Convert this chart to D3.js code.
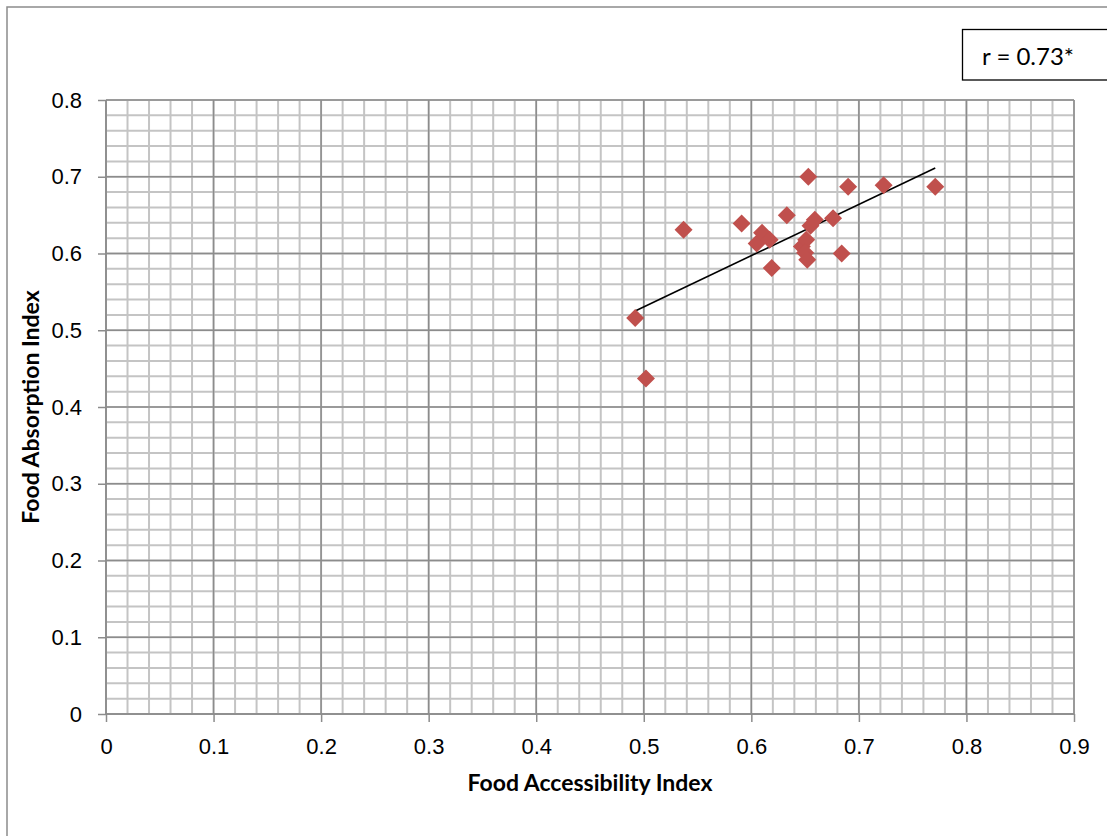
<!DOCTYPE html>
<html lang="en">
<head>
<meta charset="UTF-8">
<title>Food Accessibility vs Food Absorption</title>
<style>
  body { margin: 0; background: #fff; }
  svg { display: block; font-family: Lato, "Open Sans", sans-serif; }
  .minor line { stroke: #c4c4c4; stroke-width: 2; }
  .major line { stroke: #8c8c8c; stroke-width: 1.5; }
  .axis path, .axis line { stroke: #8c8c8c; stroke-width: 1.5; }
  .axis text { font-size: 22px; fill: #000; }
  .title { font-size: 23px; font-weight: bold; }
</style>
</head>
<body>
<svg id="chart" width="1107" height="836"></svg>
<script src="https://d3js.org/d3.v7.min.js"></script>
<script>
// data
const accessIndex = [0.492, 0.502, 0.537, 0.591, 0.605, 0.610, 0.617, 0.619, 0.633, 0.647, 0.651,
                     0.650, 0.652, 0.653, 0.655, 0.659, 0.676, 0.684, 0.690, 0.723, 0.771];
const absorbIndex = [0.516, 0.437, 0.631, 0.639, 0.613, 0.627, 0.618, 0.581, 0.650, 0.609, 0.618,
                     0.601, 0.592, 0.700, 0.636, 0.644, 0.646, 0.600, 0.687, 0.689, 0.687];
const xTicks = [0, 0.1, 0.2, 0.3, 0.4, 0.5, 0.6, 0.7, 0.8, 0.9];
const yTicks = [0, 0.1, 0.2, 0.3, 0.4, 0.5, 0.6, 0.7, 0.8];
const rLabel = "r = 0.73*";

const svg = d3.select('#chart');
const plotL = 106, plotR = 1074, plotT = 100, plotB = 714;

const x = d3.scaleLinear().domain([0, 0.9]).range([plotL, plotR]);
const y = d3.scaleLinear().domain([0, 0.8]).range([plotB, plotT]);

// outer chart border
svg.append('rect')
    .attr('x', 7).attr('y', 7).attr('width', 1200).attr('height', 900)
    .attr('fill', 'none').attr('stroke', '#8c8c8c').attr('stroke-width', 1.5);

// minor grid (0.02 steps)
const xMinor = d3.range(0, 46).map(i => i * 0.02);
const yMinor = d3.range(0, 41).map(i => i * 0.02);
const minor = svg.append('g').attr('class', 'minor');
minor.selectAll('.vx').data(xMinor).enter().append('line')
    .attr('x1', d => x(d)).attr('x2', d => x(d)).attr('y1', plotT).attr('y2', plotB);
minor.selectAll('.hy').data(yMinor).enter().append('line')
    .attr('y1', d => y(d)).attr('y2', d => y(d)).attr('x1', plotL).attr('x2', plotR);

// major grid
const major = svg.append('g').attr('class', 'major');
major.selectAll('.vx').data(xTicks).enter().append('line')
    .attr('x1', d => x(d)).attr('x2', d => x(d)).attr('y1', plotT).attr('y2', plotB);
major.selectAll('.hy').data(yTicks).enter().append('line')
    .attr('y1', d => y(d)).attr('y2', d => y(d)).attr('x1', plotL).attr('x2', plotR);

// axes
const fmt = d => d === 0 ? '0' : d3.format('.1f')(d);
svg.append('g').attr('class', 'axis')
    .attr('transform', `translate(0,${plotB})`)
    .call(d3.axisBottom(x).tickValues(xTicks).tickFormat(fmt).tickSize(8).tickSizeOuter(0).tickPadding(16));
svg.append('g').attr('class', 'axis')
    .attr('transform', `translate(${plotL},0)`)
    .call(d3.axisLeft(y).tickValues(yTicks).tickFormat(fmt).tickSize(8).tickSizeOuter(0).tickPadding(16));
svg.selectAll('.axis .domain').remove();
svg.append('line').attr('x1', plotL).attr('x2', plotR).attr('y1', plotB).attr('y2', plotB)
    .attr('stroke', '#8c8c8c').attr('stroke-width', 1.5);
svg.append('line').attr('x1', plotL).attr('x2', plotL).attr('y1', plotT).attr('y2', plotB)
    .attr('stroke', '#8c8c8c').attr('stroke-width', 1.5);

// trend line (least squares on the points)
const n = accessIndex.length;
const mx = d3.mean(accessIndex), my = d3.mean(absorbIndex);
let sxy = 0, sxx = 0;
for (let i = 0; i < n; i++) {
    sxy += (accessIndex[i] - mx) * (absorbIndex[i] - my);
    sxx += (accessIndex[i] - mx) ** 2;
}
const slope = sxy / sxx, icpt = my - slope * mx;
const [x0, x1] = d3.extent(accessIndex);
svg.append('line')
    .attr('x1', x(x0)).attr('y1', y(icpt + slope * x0))
    .attr('x2', x(x1)).attr('y2', y(icpt + slope * x1))
    .attr('stroke', '#000').attr('stroke-width', 1.6);

// diamonds
const pts = accessIndex.map((v, i) => [v, absorbIndex[i]]);
const r = 9;
svg.append('g').selectAll('path').data(pts).enter().append('path')
    .attr('transform', d => `translate(${x(d[0])},${y(d[1])})`)
    .attr('d', `M0,${-r}L${r},0L0,${r}L${-r},0Z`)
    .attr('fill', '#c0504d');

// titles
svg.append('text').attr('class', 'title')
    .attr('x', x(0.45)).attr('y', 791).attr('text-anchor', 'middle')
    .text('Food Accessibility Index');
svg.append('text').attr('class', 'title')
    .attr('transform', `translate(39,${y(0.4)}) rotate(-90)`)
    .attr('text-anchor', 'middle')
    .text('Food Absorption Index');

// r box
svg.append('rect')
    .attr('x', 962.5).attr('y', 29.5).attr('width', 160).attr('height', 50.5)
    .attr('fill', '#fff').attr('stroke', '#000').attr('stroke-width', 1.3);
svg.append('text').attr('x', 982).attr('y', 65)
    .attr('font-size', 24).text(rLabel);
</script>
</body>
</html>
